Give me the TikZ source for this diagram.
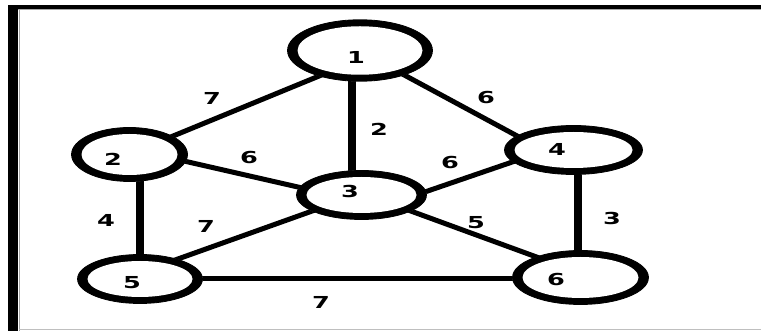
\documentclass[tikz,border=0pt]{standalone}
\usepackage{fontspec}
\newfontfamily\lblfont{DejaVu Sans}
\usetikzlibrary{shapes.geometric,backgrounds,calc}
\begin{document}
\begin{tikzpicture}[x=1pt,y=-1pt,
  vert/.style={ellipse,draw=black,line width=0.8pt,fill=white,inner sep=0pt,outer sep=0pt,
    path picture={
      \fill[black] (path picture bounding box.south west) rectangle (path picture bounding box.north east);
      \path let \p1=($(path picture bounding box.north east)-(path picture bounding box.center)$) in
        \pgfextra{\pgfmathsetmacro\rxi{\x1-10}\pgfmathsetmacro\ryi{\y1-6.5}}
        [fill=white] (path picture bounding box.center) ellipse [x radius=\rxi pt,y radius=\ryi pt];
    }},
  num/.style={font=\lblfont\bfseries\fontsize{16.5}{18}\selectfont,xscale=1.55,inner sep=0pt,text=black},
  edgethin/.style={draw=black,line width=5pt,shorten <=-5pt,shorten >=-5pt},
  edgethick/.style={draw=black,line width=8pt,shorten <=-5pt,shorten >=-5pt}]
\useasboundingbox (0,0) rectangle (761,331);
% vertices
\node[vert,minimum width=145pt,minimum height=61.5pt] (n1) at (360,50.5) {};
\node[vert,minimum width=116pt,minimum height=54pt] (n2) at (129.5,154.5) {};
\node[vert,minimum width=130pt,minimum height=49pt] (n3) at (361.5,195) {};
\node[vert,minimum width=138pt,minimum height=49pt] (n4) at (573.5,150) {};
\node[vert,minimum width=125pt,minimum height=49pt] (n5) at (140,279) {};
\node[vert,minimum width=136pt,minimum height=54pt] (n6) at (580.5,277.5) {};
% vertex labels
\node[num] (t1) at (356,57) {1};
\node[num] (t2) at (113,159) {2};
\node[num] (t3) at (350,191) {3};
\node[num] (t4) at (557,149) {4};
\node[num] (t5) at (132,283) {5};
\node[num] (t6) at (556,280) {6};
% edge labels
\node[num] (w12) at (212,98) {7};
\node[num] (w13) at (379,129) {2};
\node[num] (w14) at (486,98) {6};
\node[num] (w23) at (249,158) {6};
\node[num] (w34) at (450,163) {6};
\node[num] (w25) at (106,220) {4};
\node[num] (w35) at (206,226) {7};
\node[num] (w36) at (476,223) {5};
\node[num] (w46) at (612,218) {3};
\node[num] (w56) at (321,302) {7};
% frame
\fill[black] (8,5) rectangle (761,9);
\fill[black] (8,5) rectangle (18,331);
\draw[black!35,line width=1pt] (18,9.5) -- (761,9.5);
\draw[black!35,line width=1pt] (19,9.5) -- (19,331);
\draw[black!25,line width=1pt] (19,330) -- (761,330);
\begin{scope}[on background layer]
  \fill[white] (0,0) rectangle (761,331);
  \draw[edgethin] (n1.212) -- (n2.23);
  \draw[edgethick] ([xshift=-8pt]n1.south) -- ([xshift=-9.5pt]n3.north);
  \draw[edgethin] (n1.331) -- (n4.166);
  \draw[edgethin] (n2.353) -- (n3.173);
  \draw[edgethin] (n3.3) -- (n4.191);
  \draw[edgethick] ([xshift=10.5pt]n2.south) -- (n5.north);
  \draw[edgethin] (n3.198) -- (n5.28);
  \draw[edgethin] (n3.342) -- (n6.155);
  \draw[edgethick] ([xshift=4.5pt]n4.south) -- ([xshift=-2.5pt]n6.north);
  \draw[edgethin] (n5.east) -- (n5.east -| n6.west);
\end{scope}
\end{tikzpicture}
\end{document}
